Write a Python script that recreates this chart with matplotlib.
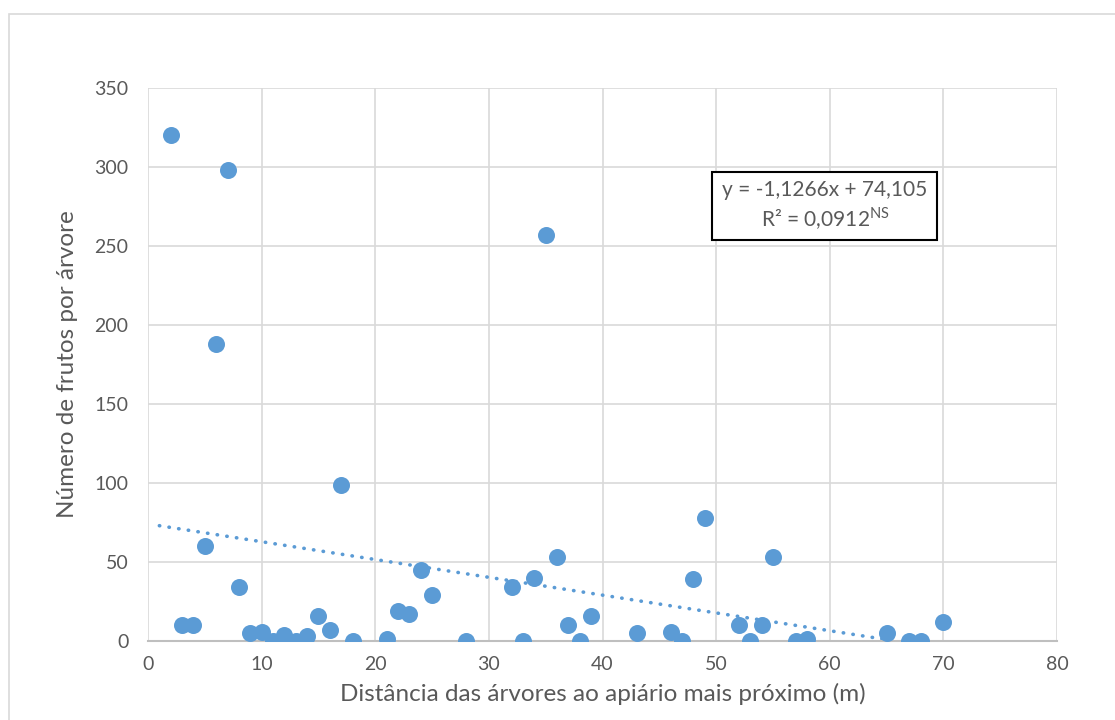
import numpy as np
import matplotlib
matplotlib.use("Agg")
from matplotlib import pyplot as plt
from matplotlib.patches import Rectangle

# dados
distancia = [2, 3, 4, 5, 6, 7, 8, 9, 10, 11, 12, 13, 14, 15, 16, 17, 18,
             21, 22, 23, 24, 25, 28, 32, 33, 34, 35, 36, 37, 38, 39, 43,
             46, 47, 48, 49, 52, 53, 54, 55, 57, 58, 65, 67, 68, 70]
frutos = [320, 10, 10, 60, 188, 298, 34, 5, 6, 0, 4, 0, 3, 16, 7, 99, 0,
          1, 19, 17, 45, 29, 0, 34, 0, 40, 257, 53, 10, 0, 16, 5,
          6, 0, 39, 78, 10, 0, 10, 53, 0, 1, 5, 0, 0, 12]

coef_a = -1.1266
coef_b = 74.105
r2 = "0,0912"

plt.rcParams['font.family'] = ['Lato', 'DejaVu Sans']
plt.rcParams['mathtext.fontset'] = 'custom'
plt.rcParams['mathtext.rm'] = 'Lato'

cor_texto = '#595959'
cor_ponto = '#5B9BD5'

fig = plt.figure(figsize=(11.15, 7.2), dpi=100)
fig.patches.append(Rectangle((9/1115, -0.01), 1.1, 1 - 14/720 + 0.01,
                             transform=fig.transFigure, fill=False,
                             edgecolor='#D9D9D9', lw=1.2))

ax = fig.add_axes([148/1115, 1 - 641/720, 909/1115, 553/720])

ax.scatter(distancia, frutos, s=150, color=cor_ponto, zorder=3, lw=0)

xt = np.linspace(1, 70, 200)
ax.plot(xt, coef_a*xt + coef_b, linestyle=(0, (0.1, 2.6)), lw=2.6,
        color=cor_ponto, zorder=2, dash_capstyle='round')

ax.set_xlim(0, 80)
ax.set_ylim(0, 350)
ax.set_xticks(range(0, 81, 10))
ax.set_yticks(range(0, 351, 50))
ax.grid(True, color='#D9D9D9', lw=1.2, zorder=0)
ax.set_axisbelow(True)
for s in ['top', 'right', 'left']:
    ax.spines[s].set_visible(False)
ax.spines['bottom'].set_color('#BFBFBF')
ax.spines['bottom'].set_linewidth(1.5)
ax.tick_params(length=0, labelsize=14, colors=cor_texto, pad=14)
ax.tick_params(axis='x', pad=11)

ax.set_xlabel('Distância das árvores ao apiário mais próximo (m)',
              fontsize=17.5, color=cor_texto, labelpad=7)
ax.set_ylabel('Número de frutos por árvore', fontsize=17.5, color=cor_texto,
              labelpad=12)

eq = 'y = -1,1266x + 74,105\nR² = ' + r2 + r'$^{\mathrm{NS}}$'
fig.text(825/1115, 1 - 206/720, eq, ha='center', va='center',
         fontsize=15, color=cor_texto, linespacing=1.25, zorder=5)
fig.patches.append(Rectangle((712/1115, 1 - 240/720), 225/1115, 68/720,
                             transform=fig.transFigure, fill=True,
                             facecolor='white', edgecolor='black', lw=1.5,
                             zorder=4))

fig.savefig('out.png', dpi=100)
